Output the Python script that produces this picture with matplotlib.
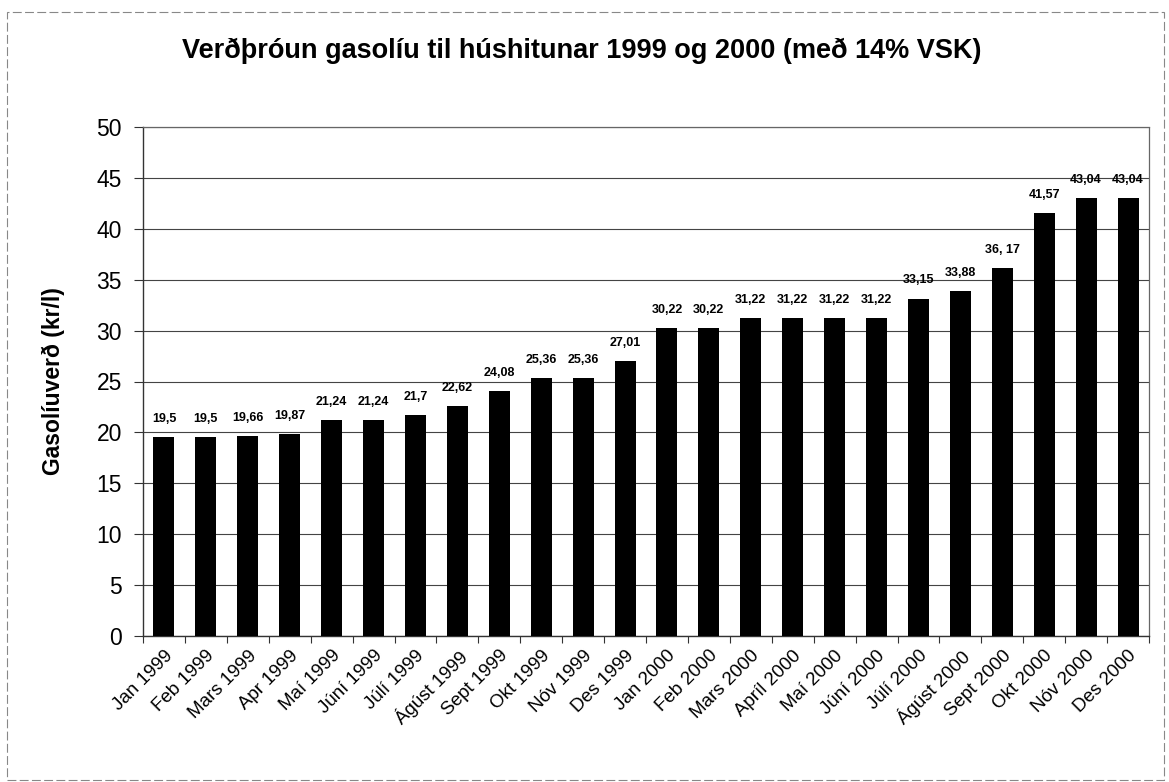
import matplotlib
matplotlib.use("Agg")
import matplotlib.pyplot as plt
from matplotlib.patches import Rectangle

plt.rcParams['font.family'] = ['Liberation Sans', 'DejaVu Sans']

months = ["Jan 1999", "Feb 1999", "Mars 1999", "Apr 1999", "Maí 1999", "Júní 1999",
          "Júlí 1999", "Ágúst 1999", "Sept 1999", "Okt 1999", "Nóv 1999", "Des 1999",
          "Jan 2000", "Feb 2000", "Mars 2000", "Apríl 2000", "Maí 2000", "Júní 2000",
          "Júlí 2000", "Ágúst 2000", "Sept 2000", "Okt 2000", "Nóv 2000", "Des 2000"]
prices = [19.5, 19.5, 19.66, 19.87, 21.24, 21.24, 21.7, 22.62, 24.08, 25.36, 25.36, 27.01,
          30.22, 30.22, 31.22, 31.22, 31.22, 31.22, 33.15, 33.88, 36.17, 41.57, 43.04, 43.04]
price_labels = ["19,5", "19,5", "19,66", "19,87", "21,24", "21,24", "21,7", "22,62", "24,08",
                "25,36", "25,36", "27,01", "30,22", "30,22", "31,22", "31,22", "31,22", "31,22",
                "33,15", "33,88", "36, 17", "41,57", "43,04", "43,04"]
yticks = [0, 5, 10, 15, 20, 25, 30, 35, 40, 45, 50]

fig = plt.figure(figsize=(11.69, 7.82), dpi=100)
ax = fig.add_axes([143/1169, 1 - 636/782, (1149-143)/1169, (636-127)/782])

x = list(range(len(months)))
ax.bar(x, prices, width=0.5, color='black', zorder=3)
for xi, p, lab in zip(x, prices, price_labels):
    ax.text(xi, p + 1.2, lab, ha='center', va='bottom', fontsize=9,
            fontweight='bold', zorder=4)

ax.set_xlim(-0.5, len(months) - 0.5)
ax.set_ylim(0, 50)
ax.set_yticks(yticks)
ax.set_yticklabels([str(v) for v in yticks], fontsize=16.5)
ax.set_xticks([i - 0.5 for i in range(len(months) + 1)], minor=False)
ax.set_xticklabels([])
ax.set_xticks(x, minor=True)
ax.set_xticklabels(months, minor=True, rotation=45, ha='right', rotation_mode='anchor',
                   fontsize=13.5)
ax.tick_params(axis='x', which='minor', length=0, pad=8)
ax.tick_params(axis='x', which='major', length=5, direction='out', color='#333333')
ax.tick_params(axis='y', length=6.5, direction='out', color='#333333', pad=8.6)
ax.grid(axis='y', color='#444444', linewidth=0.8, zorder=0)

for side in ['top', 'right']:
    ax.spines[side].set_linestyle((0, (2, 1)))
    ax.spines[side].set_color('#666666')
    ax.spines[side].set_linewidth(0.9)
for side in ['left', 'bottom']:
    ax.spines[side].set_color('#333333')
    ax.spines[side].set_linewidth(1.0)

ax.set_ylabel("Gasolíuverð (kr/l)", fontsize=16.5, fontweight='bold', labelpad=23)

fig.text(0.5 * (147 + 1017) / 1169, 1 - 51/782,
         "Verðþróun gasolíu til húshitunar 1999 og 2000 (með 14% VSK)",
         ha='center', va='center', fontsize=19.5, fontweight='bold')

fig.patches.append(Rectangle((7/1169, 2/782), (1164-7)/1169, (770-2)/782,
                             transform=fig.transFigure, fill=False, edgecolor='#888888',
                             linewidth=0.8, linestyle=(0, (8, 3))))

fig.savefig("out.png", dpi=100)
